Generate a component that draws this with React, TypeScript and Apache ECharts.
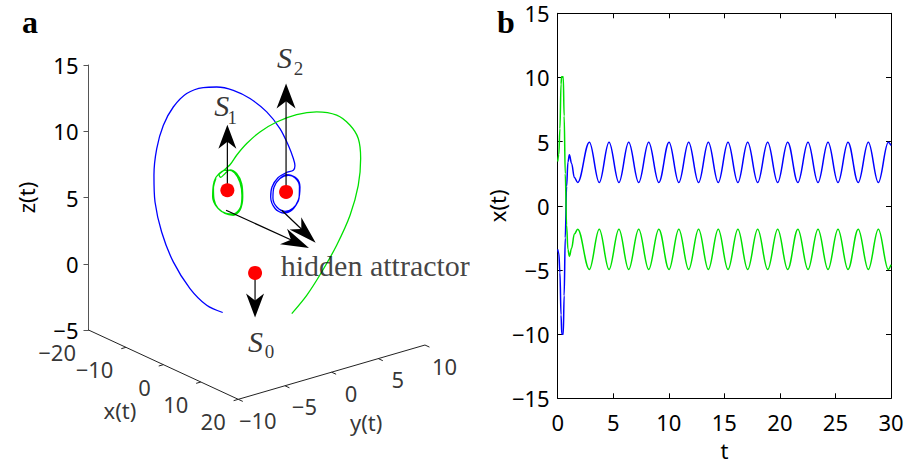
import React, { useEffect, useRef } from "react";
import * as echarts from "echarts";

// ---------- Panel b: time series x(t) ----------
const blueXt: [number, number][] = [
  [0, -3.4], [0.1, -3.7], [0.2, -5.2], [0.3, -8.5], [0.37, -10], [0.5, -10], [0.58, -7],
  [0.68, -2.5], [0.8, 1.5], [0.92, 3.4], [1.05, 3.97], [1.25, 3.3], [1.5, 2.2], [1.8, 1.82],
  [2.85, 4.96], [3.74, 1.82], [4.62, 4.96], [5.51, 1.82], [6.39, 4.96], [7.29, 1.82],
  [8.19, 4.96], [9.1, 1.82], [10.02, 4.96], [10.9, 1.82], [11.79, 4.96], [12.68, 1.82],
  [13.56, 4.96], [14.45, 1.82], [15.33, 4.96], [16.22, 1.82], [17.1, 4.96], [18.0, 1.82],
  [18.9, 4.96], [19.8, 1.82], [20.7, 4.96], [21.62, 1.82], [22.53, 4.96], [23.43, 1.82],
  [24.33, 4.96], [25.23, 1.82], [26.13, 4.96], [27.05, 1.82], [27.96, 4.96], [28.86, 1.82],
  [29.76, 4.96], [30, 4.7],
];
const greenXt: [number, number][] = [
  [0, 3.45], [0.1, 4.0], [0.2, 6.0], [0.3, 9.5], [0.35, 10.05], [0.5, 10.05], [0.58, 7],
  [0.68, 2.5], [0.8, -1.5], [0.92, -3.4], [1.05, -3.95], [1.25, -3.3], [1.5, -2.2], [1.8, -1.82],
  [2.85, -4.96], [3.74, -1.82], [4.62, -4.96], [5.51, -1.82], [6.39, -4.96], [7.29, -1.82],
  [8.19, -4.96], [9.1, -1.82], [10.02, -4.96], [10.9, -1.82], [11.79, -4.96], [12.68, -1.82],
  [13.56, -4.96], [14.45, -1.82], [15.33, -4.96], [16.22, -1.82], [17.1, -4.96], [18.0, -1.82],
  [18.9, -4.96], [19.8, -1.82], [20.7, -4.96], [21.62, -1.82], [22.53, -4.96], [23.43, -1.82],
  [24.33, -4.96], [25.23, -1.82], [26.13, -4.96], [27.05, -1.82], [27.96, -4.96], [28.86, -1.82],
  [29.76, -4.96], [30, -4.6],
];

// ---------- Panel a: projected view-plane coordinates (h, v), in z-axis units ----------
const blueOrbit: [number, number][] = [
  [10.13, -3.68], [8.92, -3.13], [7.66, -1.87], [6.4, 0.14], [5.52, 2.4], [5.02, 4.66],
  [4.94, 6.68], [5.15, 8.69], [5.65, 10.45], [6.4, 11.83], [7.41, 12.85], [8.66, 13.3],
  [9.68, 13.34], [10.93, 13.09], [12.19, 12.47], [13.45, 11.46], [14.45, 10.2], [15.08, 8.94],
  [15.46, 7.94], [15.58, 7.4], [15.46, 7.06], [14.91, 6.87], [14.3, 6.49], [13.85, 5.8],
  [13.75, 5.04], [14.08, 4.17], [14.7, 3.83], [15.34, 4.04], [15.83, 4.79], [15.96, 5.8],
  [15.71, 6.43], [15.08, 6.68], [14.45, 6.43], [14.0, 5.77], [13.92, 4.94], [14.23, 4.26],
  [14.83, 3.96], [15.43, 4.19], [15.89, 4.94], [15.92, 5.85], [15.58, 6.49], [14.98, 6.72],
  [14.42, 6.42],
];
const greenOrbit: [number, number][] = [
  [15.34, -3.76], [16.47, -2.38], [17.6, -0.62], [18.73, 1.4], [19.74, 3.66], [20.36, 5.92],
  [20.54, 7.94], [20.36, 9.45], [19.74, 10.45], [18.73, 11.21], [17.22, 11.46], [15.71, 11.26],
  [14.2, 10.7], [12.94, 9.95], [11.94, 9.07], [11.18, 8.19], [10.68, 7.47], [10.17, 7.02],
  [9.85, 6.72], [9.98, 6.52], [10.3, 6.8], [10.68, 7.09], [11.18, 6.81], [11.56, 6.05],
  [11.64, 5.04], [11.43, 4.04], [10.93, 3.66], [10.3, 3.79], [9.68, 4.29], [9.37, 5.04],
  [9.42, 5.92], [9.62, 6.53], [10.08, 6.98], [10.53, 7.06], [11.02, 6.87], [11.43, 6.15],
  [11.58, 5.17], [11.47, 4.26], [10.98, 3.77], [10.38, 3.81], [9.77, 4.19], [9.47, 4.87],
  [9.43, 5.7], [9.62, 6.45],
];
const equilibriaH = [12.57, 10.48, 14.91];
const equilibriaV = [-0.69, 5.55, 5.42];
const equilibriaSub = ["0", "1", "2"];
const arrowFrom: [number, number][] = [[10.48, 5.55], [14.91, 5.42], [12.57, -0.69], [10.38, 4.04], [14.58, 4.04]];
const arrowTo: [number, number][] = [[10.48, 9.58], [14.91, 12.66], [12.57, -3.15], [15.68, 1.62], [16.38, 2.32]];
const xTicks3d = [-20, -10, 0, 10, 20];
const yTicks3d = [-10, -5, 0, 5, 10];

// ---------- projection of the 3D box (x, y, z) onto the view plane ----------
const X0 = -20, Y0 = -10;
const EX = [0.2826, -0.1308];
const EY = [0.7045, 0.2049];
const proj = (x: number, y: number, z: number): [number, number] => [
  EX[0] * (x - X0) + EY[0] * (y - Y0),
  z + EX[1] * (x - X0) + EY[1] * (y - Y0),
];

const MINUS = "\u2212";
const fmt = (v: number) => (v < 0 ? MINUS + Math.abs(v) : String(v));
const SANS = "Noto Sans";
const SERIF = "Liberation Serif";
const ARROW_HEAD = "path://M0,0 L9,24 L0,17 L-9,24 Z";

function buildOption() {
  const segLine = (a: [number, number], b: [number, number], color = "#222", width = 1, z = 3) => ({
    type: "line",
    xAxisIndex: 0,
    yAxisIndex: 0,
    data: [a, b],
    showSymbol: false,
    clip: false,
    silent: true,
    lineStyle: { color, width },
    z,
  });
  const axisSegs: any[] = [
    segLine(proj(-20, -10, -5), proj(20, -10, -5)),
    segLine(proj(20, -10, -5), proj(20, 10, -5)),
    ...xTicks3d.map((t) => segLine(proj(t, -10, -5), proj(t, -10.5, -5))),
    ...yTicks3d.map((t) => segLine(proj(20, t, -5), proj(21.2, t, -5))),
  ];
  const arrowShafts: any[] = arrowFrom.map((f, i) => segLine(f, arrowTo[i], "#000", 1.2, 5));

  const lbl = (extra: any) => ({ show: true, position: [0, 0], color: "#000", ...extra });
  const annotations: any[] = [
    ...xTicks3d.map((t) => ({
      value: proj(t, -10, -5),
      label: lbl({ formatter: fmt(t), align: "right", verticalAlign: "middle", offset: [-12, 22.5], fontSize: 22, lineHeight: 18, fontFamily: SANS }),
    })),
    ...yTicks3d.map((t) => ({
      value: proj(20, t, -5),
      label: lbl({ formatter: fmt(t), align: "center", verticalAlign: "middle", offset: [20, 21], fontSize: 22, lineHeight: 18, fontFamily: SANS }),
    })),
    {
      value: proj(0, -10, -5),
      label: lbl({ formatter: "x(t)", align: "center", verticalAlign: "middle", offset: [-43, 46], fontSize: 22, fontFamily: SANS }),
    },
    {
      value: proj(20, 0, -5),
      label: lbl({ formatter: "y(t)", align: "center", verticalAlign: "middle", offset: [35, 50], fontSize: 22, fontFamily: SANS }),
    },
    {
      value: arrowTo[3],
      label: lbl({ formatter: "hidden attractor", align: "left", verticalAlign: "middle", offset: [-15, 24], fontSize: 30, fontFamily: SERIF, color: "#111" }),
    },
  ];
  const sOffsets: [number, number][] = [[1, 69], [-5, -84], [-1, -134]];
  const subOffsets: [number, number][] = [[15, 79], [5.5, -72], [13, -123]];
  equilibriaH.forEach((h, i) => {
    annotations.push({
      value: [h, equilibriaV[i]],
      label: lbl({ formatter: "S", align: "center", verticalAlign: "middle", offset: sOffsets[i], fontSize: 30, lineHeight: 22, fontStyle: "italic", fontFamily: SERIF }),
    });
    annotations.push({
      value: [h, equilibriaV[i]],
      label: lbl({ formatter: equilibriaSub[i], align: "center", verticalAlign: "middle", offset: subOffsets[i], fontSize: 19, lineHeight: 14, fontFamily: SERIF }),
    });
  });

  const headSizes: [number, number][] = [[18, 24], [19, 25], [18, 24], [17, 28], [17, 28]];
  const heads = arrowTo.map((t, i) => {
    const dh = t[0] - arrowFrom[i][0];
    const dv = t[1] - arrowFrom[i][1];
    return {
      value: t,
      symbolSize: headSizes[i],
      symbolRotate: (Math.atan2(-dh, dv) * 180) / Math.PI,
    };
  });

  const boxAxisCommon = {
    axisLine: { show: true, onZero: false, lineStyle: { color: "#000", width: 1 } },
    axisTick: { show: true, inside: true, length: 5, lineStyle: { color: "#000" } },
    splitLine: { show: false },
  };

  return {
    animation: false,
    backgroundColor: "#fff",
    grid: [
      { left: 88.5, top: 65, width: 397.5, height: 265, outerBoundsMode: "none", containLabel: false },
      { left: 557.7, top: 13.3, width: 333.3, height: 385, outerBoundsMode: "none", containLabel: false },
    ],
    xAxis: [
      { gridIndex: 0, type: "value", min: 0, max: 30, show: false },
      {
        gridIndex: 1, type: "value", min: 0, max: 30, interval: 5, position: "bottom",
        ...boxAxisCommon,
        axisLabel: { fontSize: 22, fontFamily: SANS, color: "#000", margin: 13, formatter: fmt },
        name: "t", nameLocation: "middle", nameGap: 41,
        nameTextStyle: { fontSize: 22, fontFamily: SANS, color: "#000" },
      },
      {
        gridIndex: 1, type: "value", min: 0, max: 30, interval: 5, position: "top",
        ...boxAxisCommon, axisLabel: { show: false },
      },
    ],
    yAxis: [
      {
        gridIndex: 0, type: "value", min: -5, max: 15, interval: 5, position: "left",
        axisLine: { show: true, onZero: false, lineStyle: { color: "#555", width: 1 } },
        axisTick: { show: true, inside: false, length: 5, lineStyle: { color: "#555" } },
        splitLine: { show: false },
        axisLabel: { fontSize: 22, lineHeight: 18, fontFamily: SANS, color: "#000", margin: 10, formatter: fmt },
        name: "z(t)", nameLocation: "middle", nameGap: 52, nameRotate: 90,
        nameTextStyle: { fontSize: 22, fontFamily: SANS, color: "#000" },
      },
      {
        gridIndex: 1, type: "value", min: -15, max: 15, interval: 5, position: "left",
        ...boxAxisCommon,
        axisLabel: { fontSize: 22, lineHeight: 18, fontFamily: SANS, color: "#000", margin: 8, formatter: fmt },
        name: "x(t)", nameLocation: "middle", nameGap: 50, nameRotate: 90,
        nameTextStyle: { fontSize: 22, fontFamily: SANS, color: "#000" },
      },
      {
        gridIndex: 1, type: "value", min: -15, max: 15, interval: 5, position: "right",
        ...boxAxisCommon, axisLabel: { show: false },
      },
    ],
    graphic: [
      { type: "text", x: 22, y: 22, style: { text: "a", font: `bold 32px "${SERIF}"`, fill: "#000", verticalAlign: "middle" } },
      { type: "text", x: 497, y: 22, style: { text: "b", font: `bold 32px "${SERIF}"`, fill: "#000", verticalAlign: "middle" } },
    ],
    series: [
      ...axisSegs,
      {
        type: "line", xAxisIndex: 0, yAxisIndex: 0, data: blueOrbit, smooth: 0.3, showSymbol: false,
        clip: false, silent: true, lineStyle: { color: "#0000ff", width: 1.3 }, z: 4,
      },
      {
        type: "line", xAxisIndex: 0, yAxisIndex: 0, data: greenOrbit, smooth: 0.3, showSymbol: false,
        clip: false, silent: true, lineStyle: { color: "#00e000", width: 1.3 }, z: 4,
      },
      ...arrowShafts,
      {
        type: "scatter", xAxisIndex: 0, yAxisIndex: 0, symbol: ARROW_HEAD, silent: true,
        itemStyle: { color: "#000", opacity: 1 }, clip: false, data: heads, z: 6,
      },
      {
        type: "scatter", xAxisIndex: 0, yAxisIndex: 0, symbol: "circle", symbolSize: 14, silent: true,
        itemStyle: { color: "#ff0000", opacity: 1 }, clip: false,
        data: equilibriaH.map((h, i) => [h, equilibriaV[i]]), z: 7,
      },
      {
        type: "scatter", xAxisIndex: 0, yAxisIndex: 0, symbol: "circle", symbolSize: 1, silent: true,
        itemStyle: { color: "rgba(0,0,0,0)" }, clip: false, data: annotations, z: 8,
      },
      {
        type: "line", xAxisIndex: 1, yAxisIndex: 1, data: blueXt, smooth: 0.37, smoothMonotone: "x",
        showSymbol: false, silent: true, lineStyle: { color: "#0000ff", width: 1.5 }, z: 4,
      },
      {
        type: "line", xAxisIndex: 1, yAxisIndex: 1, data: greenXt, smooth: 0.37, smoothMonotone: "x",
        showSymbol: false, silent: true, lineStyle: { color: "#00e000", width: 1.5 }, z: 4,
      },
    ],
  };
}

export default function App() {
  const ref = useRef<HTMLDivElement>(null);
  useEffect(() => {
    if (!ref.current) return;
    const chart = echarts.init(ref.current, undefined, { renderer: "svg" });
    chart.setOption(buildOption() as any);
    return () => chart.dispose();
  }, []);
  return (
    <div
      ref={ref}
      style={{ position: "fixed", left: 0, top: 0, width: 917, height: 464, background: "#fff" }}
    />
  );
}
